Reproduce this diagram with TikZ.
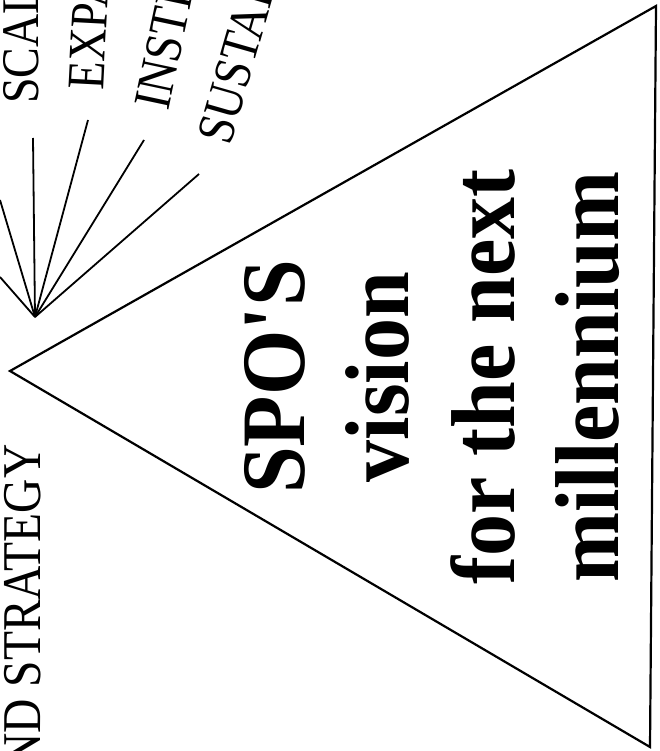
\documentclass[tikz,border=0pt]{standalone}
\usepackage{fontspec}
\setmainfont{Liberation Serif}
\newfontfamily\rawserif{Liberation Serif}
\tikzset{
  lbl/.style={inner sep=0pt, anchor=base west, font=\fontsize{46}{50}\selectfont},
  lblsc/.style={yscale=1.15},
  big/.style={inner sep=0pt, anchor=base, rotate=90, yscale=1.08, font=\rawserif\bfseries\fontsize{84}{90}\selectfont},
  fanline/.style={line width=1.8pt},
  tri/.style={line width=2.2pt, line join=miter}
}
\begin{document}
\begin{tikzpicture}[x=1pt,y=-1pt]
\useasboundingbox (0,0) rectangle (660,751);
% triangle
\coordinate (apex) at (10,371);
\coordinate (tr) at (656,6);
\coordinate (br) at (650,747);
\draw[tri] (apex) -- (tr) -- (br) -- cycle;
% fan
\coordinate (hub) at (35,317);
\coordinate (e1) at (0,200);
\coordinate (e2) at (0,277);
\coordinate (e3) at (33,138);
\coordinate (e4) at (88,120);
\coordinate (e5) at (144,140);
\coordinate (e6) at (199,174);
\foreach \e in {e1,e2,e3,e4,e5,e6} \draw[fanline] (hub) -- (\e);
% labels
\node[lbl, rotate=90, lblsc] (scal) at (38,104) {SCAL};
\node[lbl, rotate=87, lblsc] (expa) at (103,91) {EXPA};
\node[lbl, rotate=78, lblsc] (insti) at (168,112) {INSTI};
\node[lbl, rotate=74, lblsc] (sustai) at (230,147) {SUSTAI};
\node[lbl, rotate=90, lblsc, font=\fontsize{47.5}{50}\selectfont] (strat) at (40,768) {ND STRATEGY};
% main text
\node[big] (l1) at (304,377) {SPO'S};
\node[big] (l2) at (408,377) {vision};
\node[big] (l3) at (514,377) {for the next};
\node[big] (l4) at (618,377) {millennium};
\end{tikzpicture}
\end{document}
